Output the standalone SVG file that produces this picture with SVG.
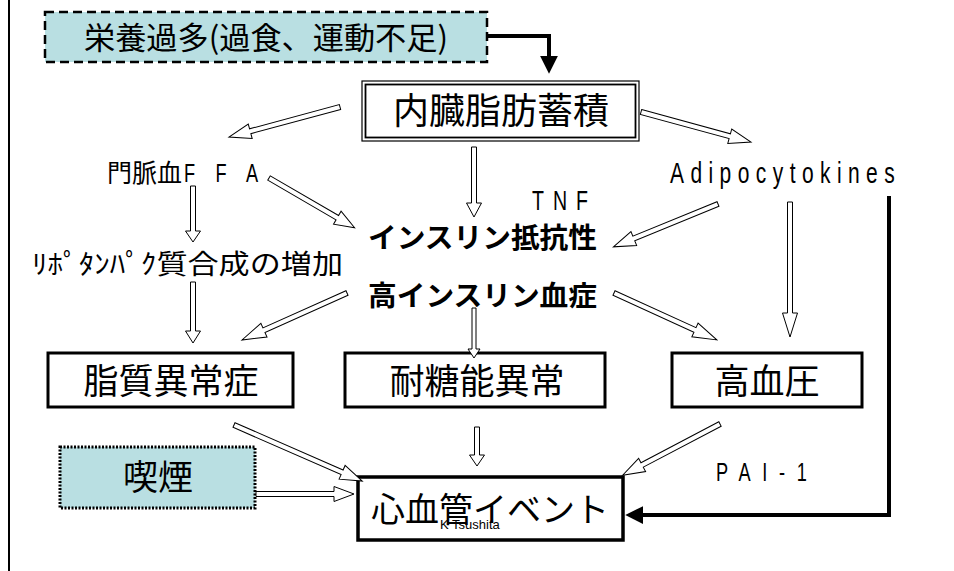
<svg xmlns="http://www.w3.org/2000/svg" width="954" height="571" viewBox="0 0 954 571">
<defs>
<style>
.jp{font-family:"Noto Sans CJK JP","Noto Sans",sans-serif;fill:#000}
.lat{font-family:"Liberation Sans","DejaVu Sans",sans-serif;fill:#000}
.box{fill:#fff;stroke:#000;stroke-width:3}
.harrow{fill:#fff;stroke:#000;stroke-width:1}
.thick{fill:none;stroke:#000;stroke-width:4}
</style>
<marker id="solid" markerUnits="userSpaceOnUse" markerWidth="18" markerHeight="18" viewBox="0 0 16 16" refX="2" refY="8" orient="auto">
<path d="M0,0 L16,8 L0,16 Z" fill="#000"/>
</marker>
</defs>
<rect x="0" y="0" width="954" height="571" fill="#fff"/>
<line x1="9" y1="0" x2="9" y2="571" stroke="#000" stroke-width="2"/>

<g id="eiyou">
<rect x="45" y="12" width="442" height="50" fill="#B9DFE2" stroke="#000" stroke-width="2.5" stroke-dasharray="9,5"/>
<text class="jp" x="84" y="49" font-size="31" textLength="364" lengthAdjust="spacingAndGlyphs">栄養過多(過食、運動不足)</text>
</g>

<g id="naizou">
<rect x="362" y="81" width="277" height="60" fill="#fff" stroke="#000" stroke-width="1.2"/>
<rect x="365.5" y="84.5" width="270" height="53" fill="none" stroke="#000" stroke-width="1.8"/>
<text class="jp" x="501" y="124" font-size="36" text-anchor="middle">内臓脂肪蓄積</text>
</g>

<g id="ffa">
<text class="jp" x="107" y="182" font-size="25">門脈血</text>
<text class="lat" transform="translate(184,182) scale(0.7,1)" font-size="26" textLength="106" lengthAdjust="spacing">FFA</text>
</g>

<g id="tnf">
<text class="lat" transform="translate(532,210) scale(0.7,1)" font-size="28" textLength="80" lengthAdjust="spacing">TNF</text>
</g>

<g id="adipo">
<text class="lat" transform="translate(670,183) scale(0.7,1)" font-size="30" textLength="321" lengthAdjust="spacing">Adipocytokines</text>
</g>

<g id="insulin-resist">
<text class="jp" x="368" y="248" font-size="28" font-weight="bold" textLength="229" lengthAdjust="spacingAndGlyphs">インスリン抵抗性</text>
</g>

<g id="hyperinsulin">
<text class="jp" x="368" y="306" font-size="28" font-weight="bold" textLength="229" lengthAdjust="spacingAndGlyphs">高インスリン血症</text>
</g>

<g id="lipo">
<text class="jp" x="32" y="274" font-size="27" textLength="311" lengthAdjust="spacingAndGlyphs">ﾘﾎﾟﾀﾝﾊﾟｸ質合成の増加</text>
</g>

<g id="shishitsu">
<rect class="box" x="48" y="353" width="245" height="54"/>
<text class="jp" x="171" y="394" font-size="35" text-anchor="middle">脂質異常症</text>
</g>

<g id="taitou">
<rect class="box" x="345" y="353" width="260" height="54"/>
<text class="jp" x="477" y="394" font-size="35" text-anchor="middle">耐糖能異常</text>
</g>

<g id="kouketsuatsu">
<rect class="box" x="672" y="353" width="190" height="54"/>
<text class="jp" x="767" y="394" font-size="35" text-anchor="middle">高血圧</text>
</g>

<g id="kitsuen">
<rect x="60" y="447" width="195" height="61" fill="#B9DFE2" stroke="#000" stroke-width="3" stroke-dasharray="2,1.5"/>
<text class="jp" x="158" y="490" font-size="35" text-anchor="middle">喫煙</text>
</g>

<g id="shinkekkan">
<rect x="358" y="477" width="265" height="63" fill="#fff" stroke="#000" stroke-width="3.5"/>
<text class="jp" x="490" y="522" font-size="34" text-anchor="middle">心血管イベント</text>
<text class="lat" x="440" y="529" font-size="13">K  Tsushita</text>
</g>

<g id="pai1">
<text class="lat" transform="translate(716,481) scale(0.7,1)" font-size="26" textLength="130" lengthAdjust="spacing">PAI-1</text>
</g>

<g id="connectors">
<path class="thick" d="M487,36 H549 V58" marker-end="url(#solid)"/>
<path class="thick" d="M889,196 V515 H641" marker-end="url(#solid)"/>
<path class="harrow" transform="translate(340,107) rotate(164.88)" d="M0,-2.5 H93 V-7.5 L115,0 L93,7.5 V2.5 H0 Z"/>
<path class="harrow" transform="translate(474,147) rotate(90)" d="M0,-2.5 H56 V-7.5 L70,0 L56,7.5 V2.5 H0 Z"/>
<path class="harrow" transform="translate(641,112) rotate(15.26)" d="M0,-2.5 H92 V-7.5 L114,0 L92,7.5 V2.5 H0 Z"/>
<path class="harrow" transform="translate(269,178) rotate(30.17)" d="M0,-2.5 H79 V-7.5 L99,0 L79,7.5 V2.5 H0 Z"/>
<path class="harrow" transform="translate(193,186) rotate(90)" d="M0,-2.5 H45 V-7.5 L56,0 L45,7.5 V2.5 H0 Z"/>
<path class="harrow" transform="translate(193,282) rotate(90)" d="M0,-2.5 H49 V-7.5 L61,0 L49,7.5 V2.5 H0 Z"/>
<path class="harrow" transform="translate(347,293) rotate(155.88)" d="M0,-2.5 H91 V-7.5 L115,0 L91,7.5 V2.5 H0 Z"/>
<path class="harrow" transform="translate(474,308) rotate(90)" d="M0,-2 H41 V-6 L50,0 L41,6 V2 H0 Z"/>
<path class="harrow" transform="translate(614,293) rotate(24.53)" d="M0,-2.5 H89 V-7.5 L113,0 L89,7.5 V2.5 H0 Z"/>
<path class="harrow" transform="translate(718,204) rotate(157.73)" d="M0,-2.5 H91 V-7.5 L113,0 L91,7.5 V2.5 H0 Z"/>
<path class="harrow" transform="translate(790,202) rotate(90)" d="M0,-2.5 H111 V-7.5 L135,0 L111,7.5 V2.5 H0 Z"/>
<path class="harrow" transform="translate(234,425) rotate(23.63)" d="M0,-2.5 H118 V-7.5 L140,0 L118,7.5 V2.5 H0 Z"/>
<path class="harrow" transform="translate(477,427) rotate(90)" d="M0,-2.5 H28 V-7.5 L39,0 L28,7.5 V2.5 H0 Z"/>
<path class="harrow" transform="translate(720,424) rotate(152.26)" d="M0,-2.5 H88 V-7.5 L110,0 L88,7.5 V2.5 H0 Z"/>
<path class="harrow" transform="translate(256,494)" d="M0,-2.5 H78 V-7.5 L98,0 L78,7.5 V2.5 H0 Z"/>
</g>
</svg>
